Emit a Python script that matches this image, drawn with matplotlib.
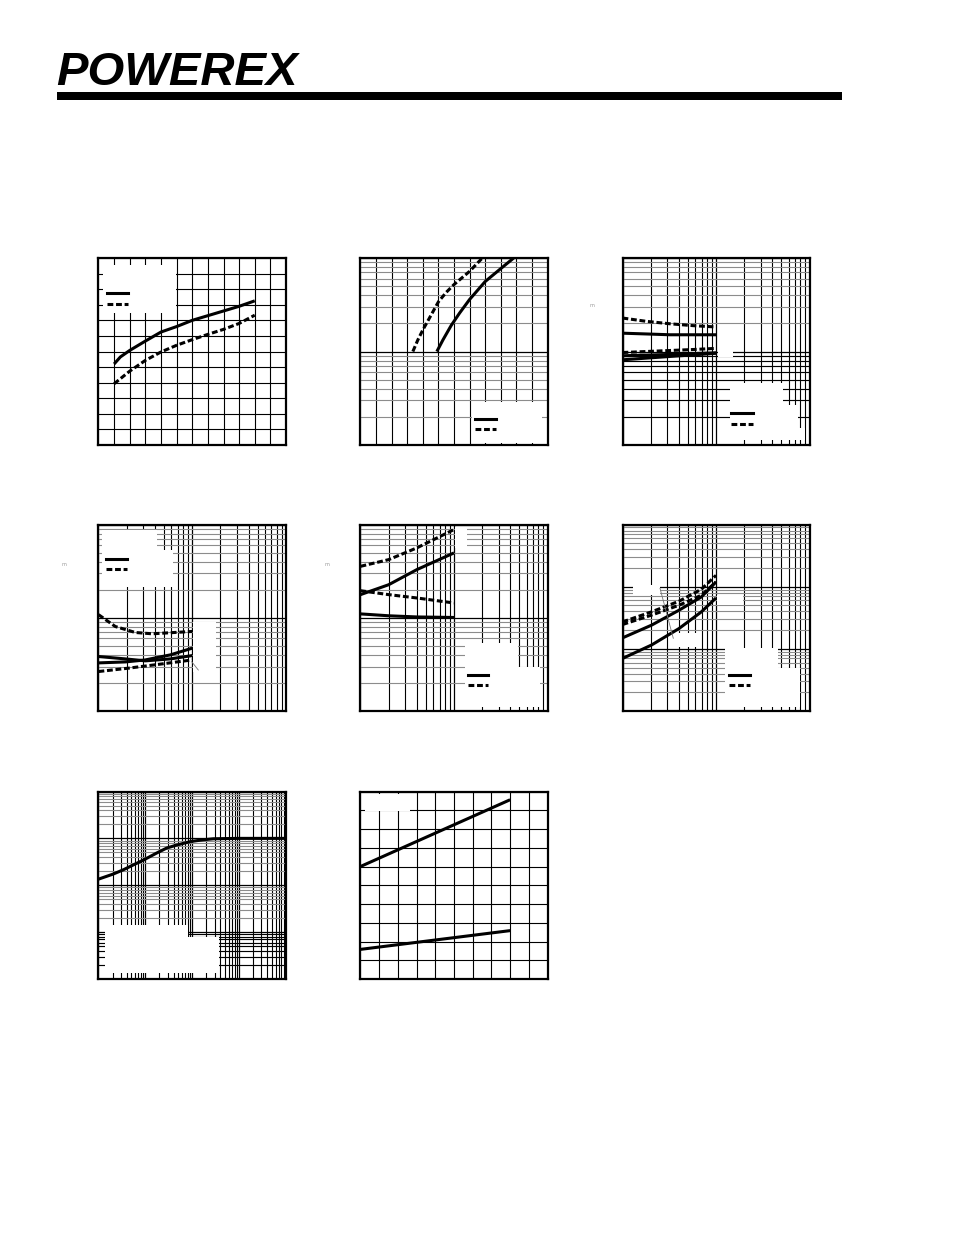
import matplotlib
matplotlib.use('Agg')
import matplotlib.pyplot as plt
import numpy as np
from matplotlib.patches import Rectangle
from matplotlib.ticker import LogLocator, NullFormatter

# grafica 1 (lineal 0..12)
g1_x = [1, 1.4, 2, 3, 4, 5, 6, 7, 8, 9, 10]
g1_solida = [5.2, 5.65, 6.07, 6.67, 7.25, 7.6, 8.0, 8.3, 8.6, 8.9, 9.25]
g1_trazos_x = [1, 2, 3, 4, 5, 6, 7, 8, 9, 10]
g1_trazos = [3.93, 4.74, 5.43, 5.97, 6.4, 6.76, 7.1, 7.42, 7.8, 8.33]

# grafica 2 (x lineal, y log)
g2_trazos_x = [3.36, 3.68, 4, 4.54, 5, 5.5, 6, 7, 7.82]
g2_trazos = [10, 13.3, 17, 24.7, 34, 42.9, 52, 72, 100]
g2_solida_x = [4.9, 5.29, 5.82, 6.36, 7, 8, 9, 9.83]
g2_solida = [10, 13.3, 19, 25.8, 36, 56, 77, 100]

# grafica 3 (log-log)
g3_x = [1, 1.81, 3.21, 5.71, 10]
g3_trazos_sup = [22.8, 21, 19.8, 18.9, 18.3]
g3_solida_sup = [15.7, 15.4, 15.1, 15.1, 15.1]
g3_trazos_inf = [9.75, 10, 10.25, 10.5, 10.8]
g3_solida_inf_a = [9.0, 9.15, 9.3, 9.5, 9.68]
g3_solida_inf_b = [8.15, 8.5, 8.85, 9.2, 9.57]

# grafica 4 (log-log)
g4_trazos_sup_x = [1, 1.51, 2.47, 3.73, 10]
g4_trazos_sup = [10.8, 8.06, 6.95, 6.73, 7.13]
g4_solida_x = [1, 1.93, 3.16, 5.85, 10]
g4_solida_a = [3.84, 3.62, 3.45, 3.62, 3.93]
g4_solida_b = [3.28, 3.36, 3.53, 4.0, 4.72]
g4_trazos_inf_x = [1, 2.09, 4.77, 10]
g4_trazos_inf = [2.65, 2.88, 3.2, 3.53]

# grafica 5 (log-log)
g5_x = [1, 2, 4, 10]
g5_trazos_sup = [35.6, 42, 56.1, 88.3]
g5_solida_sup = [17.7, 22.6, 32.8, 49.6]
g5_trazos_med = [19.5, 17.7, 16.3, 14.4]
g5_solida_inf = [11.0, 10.5, 10.2, 10.07]

# grafica 6 (log-log, 3 decadas en y)
g6_x = [1, 2.04, 4.02, 6.97, 10]
g6_trazos_a = [27.1, 39.3, 58.3, 90.8, 152]
g6_trazos_b = [24.6, 34.8, 50.3, 72.8, 119]
g6_solida_a = [15, 24, 41.8, 68.3, 119]
g6_solida_b = [7.0, 11.5, 21.2, 39.3, 65.9]

# grafica 7 (log-log, 4 decadas)
g7_x = [1, 2.05, 3.36, 9.3, 17.3, 28.4, 46.4, 93.8, 172, 281, 962, 10000]
g7_y = [135, 173, 213, 349, 485, 621, 719, 859, 933, 980, 1000, 1000]

# grafica 8 (lineal 0..10)
g8_x = [0, 8]
g8_sup = [6.0, 9.56]
g8_inf = [1.58, 2.58]

W, H = 954, 1235
fig = plt.figure(figsize=(W / 100, H / 100), dpi=100)

NEGRO = 'black'
GRIS = '#8c8c8c'
LW = 2.2
TRAZO = (1.9, 0.9)


def crear_ejes(izq, arriba, der, abajo):
    ax = fig.add_axes([izq / W, 1 - abajo / H, (der - izq) / W, (abajo - arriba) / H])
    for s in ax.spines.values():
        s.set_linewidth(1.6)
    ax.set_axisbelow(True)
    ax.tick_params(which='both', length=0, labelbottom=False, labelleft=False)
    return ax


def a_ejes(ax, x, y):
    pos = ax.get_position()
    return ((x / W - pos.x0) / pos.width, ((1 - y / H) - pos.y0) / pos.height)


def caja(ax, x0, y0, x1, y1):
    fx0, fy1 = a_ejes(ax, x0, y0)
    fx1, fy0 = a_ejes(ax, x1, y1)
    ax.add_patch(Rectangle((fx0, fy0), fx1 - fx0, fy1 - fy0, transform=ax.transAxes,
                           facecolor='white', edgecolor='none', zorder=1))


def muestra(ax, x0, x1, y, trazos=False):
    a = a_ejes(ax, x0, y)
    b = a_ejes(ax, x1, y)
    kw = dict(dashes=TRAZO) if trazos else {}
    ax.plot([a[0], b[0]], [a[1], b[1]], color=NEGRO, lw=LW, transform=ax.transAxes,
            zorder=3, **kw)


def linea_fina(ax, x0, y0, x1, y1):
    a = a_ejes(ax, x0, y0)
    b = a_ejes(ax, x1, y1)
    ax.plot([a[0], b[0]], [a[1], b[1]], color='#777777', lw=0.6, transform=ax.transAxes, zorder=3)


def rejilla_lineal(ax, nx, ny):
    ax.set_xlim(0, nx)
    ax.set_ylim(0, ny)
    ax.set_xticks(range(nx + 1))
    ax.set_yticks(range(ny + 1))
    ax.grid(True, color=NEGRO, lw=0.8)


def eje_log(eje, gris):
    eje.set_major_locator(LogLocator(base=10, numticks=50))
    eje.set_minor_locator(LogLocator(base=10, subs=np.arange(2, 10), numticks=200))
    eje.set_minor_formatter(NullFormatter())
    eje.grid(True, which='major', color=NEGRO, lw=0.9)
    eje.grid(True, which='minor', color=GRIS if gris else NEGRO, lw=0.8)


def curva(ax, x, y, trazos=False):
    kw = dict(dashes=TRAZO) if trazos else {}
    ax.plot(x, y, color=NEGRO, lw=LW, zorder=2, solid_capstyle='butt',
            solid_joinstyle='round', **kw)


col = [(98.5, 286), (360.5, 547.5), (622.5, 809.5)]
fil = [(258, 445), (524.5, 711), (791.5, 979)]

# logo y barra
fig.text(56 / W, 1 - 85 / H, 'POWEREX', fontsize=34, fontweight='heavy', fontstyle='italic',
         family=['Liberation Sans', 'DejaVu Sans'], va='baseline')
fig.patches.append(Rectangle((57 / W, 1 - 100 / H), (842 - 57) / W, 8 / H,
                             transform=fig.transFigure, facecolor=NEGRO, edgecolor='none'))

# --- grafica 1
ax1 = crear_ejes(col[0][0], fil[0][0], col[0][1], fil[0][1])
rejilla_lineal(ax1, 12, 12)
caja(ax1, 103, 265, 176, 313)
muestra(ax1, 106.7, 128.3, 293.3)
muestra(ax1, 106.7, 128.3, 304, trazos=True)
curva(ax1, g1_x, g1_solida)
curva(ax1, g1_trazos_x, g1_trazos, trazos=True)

# --- grafica 2
ax2 = crear_ejes(col[1][0], fil[0][0], col[1][1], fil[0][1])
ax2.set_yscale('log')
ax2.set_xlim(0, 12)
ax2.set_ylim(1, 100)
ax2.set_xticks(range(13))
ax2.xaxis.grid(True, color=NEGRO, lw=0.8)
eje_log(ax2.yaxis, True)
caja(ax2, 471.7, 402, 541.7, 443)
muestra(ax2, 475, 495.7, 419.3)
muestra(ax2, 475, 495.7, 429.3, trazos=True)
curva(ax2, g2_solida_x, g2_solida)
curva(ax2, g2_trazos_x, g2_trazos, trazos=True)

# --- grafica 3
ax3 = crear_ejes(col[2][0], fil[0][0], col[2][1], fil[0][1])
ax3.set_xscale('log')
ax3.set_yscale('log')
ax3.set_xlim(1, 100)
ax3.set_ylim(1, 100)
eje_log(ax3.xaxis, False)
eje_log(ax3.yaxis, True)
for v in range(2, 10):
    ax3.axhline(v, color=NEGRO, lw=0.8, zorder=0.6)
caja(ax3, 718, 348, 733, 357)
caja(ax3, 730, 383.3, 783.3, 440)
caja(ax3, 783.3, 405, 798.3, 440)
caja(ax3, 798.3, 428, 805, 440)
muestra(ax3, 731, 753.3, 413.3)
muestra(ax3, 731, 753.3, 424, trazos=True)
curva(ax3, g3_x, g3_trazos_sup, trazos=True)
curva(ax3, g3_x, g3_solida_sup)
curva(ax3, g3_x, g3_trazos_inf, trazos=True)
curva(ax3, g3_x, g3_solida_inf_a)
curva(ax3, g3_x, g3_solida_inf_b)

# --- grafica 4
ax4 = crear_ejes(col[0][0], fil[1][0], col[0][1], fil[1][1])
ax4.set_xscale('log')
ax4.set_yscale('log')
ax4.set_xlim(1, 100)
ax4.set_ylim(1, 100)
eje_log(ax4.xaxis, False)
eje_log(ax4.yaxis, True)
caja(ax4, 101.7, 530, 156.7, 587)
caja(ax4, 156.7, 550, 173.3, 587)
caja(ax4, 192.7, 621.7, 216, 671.7)
muestra(ax4, 105.7, 126.7, 559.3)
muestra(ax4, 105.7, 126.7, 569.3, trazos=True)
curva(ax4, g4_trazos_sup_x, g4_trazos_sup, trazos=True)
curva(ax4, g4_solida_x, g4_solida_a)
curva(ax4, g4_solida_x, g4_solida_b)
curva(ax4, g4_trazos_inf_x, g4_trazos_inf, trazos=True)
linea_fina(ax4, 191.7, 661.7, 198.3, 670)

# --- grafica 5
ax5 = crear_ejes(col[1][0], fil[1][0], col[1][1], fil[1][1])
ax5.set_xscale('log')
ax5.set_yscale('log')
ax5.set_xlim(1, 100)
ax5.set_ylim(1, 100)
eje_log(ax5.xaxis, False)
eje_log(ax5.yaxis, True)
caja(ax5, 455, 526.7, 466.7, 548.3)
caja(ax5, 465, 643, 518.3, 706.7)
caja(ax5, 518.3, 666.7, 540, 706.7)
muestra(ax5, 467.7, 488.3, 675)
muestra(ax5, 467.7, 488.3, 685, trazos=True)
curva(ax5, g5_x, g5_trazos_sup, trazos=True)
curva(ax5, g5_x, g5_solida_sup)
curva(ax5, g5_x, g5_trazos_med, trazos=True)
curva(ax5, g5_x, g5_solida_inf)

# --- grafica 6
ax6 = crear_ejes(col[2][0], fil[1][0], col[2][1], fil[1][1])
ax6.set_xscale('log')
ax6.set_yscale('log')
ax6.set_xlim(1, 100)
ax6.set_ylim(1, 1000)
eje_log(ax6.xaxis, False)
eje_log(ax6.yaxis, True)
caja(ax6, 633.3, 585, 660, 595)
caja(ax6, 671.7, 633.3, 698.3, 646.7)
caja(ax6, 716.7, 595, 743.3, 605)
caja(ax6, 725, 648.3, 778.3, 706.7)
caja(ax6, 778.3, 668, 800, 706.7)
muestra(ax6, 729, 750, 675)
muestra(ax6, 729, 750, 685, trazos=True)
curva(ax6, g6_x, g6_trazos_a, trazos=True)
curva(ax6, g6_x, g6_trazos_b, trazos=True)
curva(ax6, g6_x, g6_solida_a)
curva(ax6, g6_x, g6_solida_b)
linea_fina(ax6, 660, 588.3, 673.3, 638.3)

# --- grafica 7
ax7 = crear_ejes(col[0][0], fil[2][0], col[0][1], fil[2][1])
ax7.set_xscale('log')
ax7.set_yscale('log')
ax7.set_xlim(1, 1e4)
ax7.set_ylim(1, 1e4)
eje_log(ax7.xaxis, False)
eje_log(ax7.yaxis, True)
for v in range(2, 10):
    ax7.axhline(v, color=NEGRO, lw=0.8, zorder=0.6)
caja(ax7, 105, 925, 188.3, 973.3)
caja(ax7, 188.3, 937.3, 219, 973.3)
curva(ax7, g7_x, g7_y)

# --- grafica 8
ax8 = crear_ejes(col[1][0], fil[2][0], col[1][1], fil[2][1])
rejilla_lineal(ax8, 10, 10)
caja(ax8, 365, 794, 410, 811)
caja(ax8, 512, 794, 527, 805)
caja(ax8, 512, 925, 527, 935)
curva(ax8, g8_x, g8_sup)
curva(ax8, g8_x, g8_inf)

# restos de texto muy pequenos
for (tx, ty) in [(590, 307), (62, 566), (325, 566)]:
    fig.text(tx / W, 1 - ty / H, 'm.', fontsize=3.5, color='#999999')

fig.savefig('out.png', dpi=100)
